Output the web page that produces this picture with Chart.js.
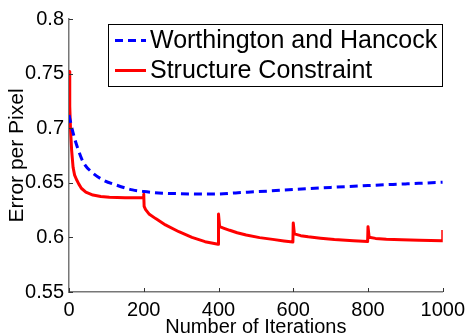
<!DOCTYPE html>
<html><head><meta charset="utf-8">
<script src="https://cdn.jsdelivr.net/npm/chart.js@4"></script>
<style>html,body{margin:0;padding:0;background:#fff;overflow:hidden}</style>
</head><body>
<div style="width:471px;height:336px"><canvas id="c" width="471" height="336"></canvas></div>
<script>
const xTicks = [0, 200, 400, 600, 800, 1000];
const yTicks = [0.55, 0.6, 0.65, 0.7, 0.75, 0.8];

const whLabel = 'Worthington and Hancock';
const whIter = [0, 3, 11, 25, 38, 60, 91, 126, 170, 200, 250, 300, 364, 400, 452, 500, 600, 700, 800, 900, 1000];
const whErr  = [0.712, 0.7075, 0.6956, 0.68, 0.669, 0.66, 0.6526, 0.648, 0.6435, 0.642, 0.6405, 0.64, 0.6397, 0.6398, 0.641, 0.6418, 0.6438, 0.6458, 0.6475, 0.649, 0.6505];

const scLabel = 'Structure Constraint';
const scIter = [0, 2, 4, 7, 11, 15, 20, 26, 33, 45, 64, 85, 108, 150, 199,
  200, 201, 205, 214, 232, 258, 294, 329, 364, 399,
  400, 403, 415, 430, 450, 474, 510, 545, 575, 599,
  600, 603, 620, 640, 673, 710, 761, 799,
  800, 803, 820, 849, 890, 937, 999, 1000];
const scErr = [0.752, 0.72, 0.70, 0.68, 0.664, 0.657, 0.653, 0.649, 0.645, 0.6415, 0.6388, 0.6375, 0.6367, 0.6363, 0.6365,
  0.6395, 0.6285, 0.6255, 0.6215, 0.6172, 0.6114, 0.6052, 0.6, 0.5961, 0.5937,
  0.6214, 0.6098, 0.6083, 0.6065, 0.6043, 0.6022, 0.5998, 0.5982, 0.5968, 0.5958,
  0.6132, 0.6032, 0.6016, 0.6005, 0.5992, 0.598, 0.597, 0.5962,
  0.6098, 0.6002, 0.5991, 0.5983, 0.5978, 0.5975, 0.597, 0.6068];

const FONT = "'Liberation Sans', Arial, Helvetica, sans-serif";
const toPts = (xs, ys) => xs.map((x, i) => ({x: x, y: ys[i]}));

const inwardTicks = {
  id: 'inwardTicks',
  afterDraw(chart) {
    const {ctx, chartArea: a, scales: {x, y}} = chart;
    ctx.save();
    ctx.strokeStyle = '#333';
    ctx.lineWidth = 1;
    ctx.beginPath();
    x.ticks.forEach(t => {
      const px = Math.round(x.getPixelForValue(t.value)) + 0.5;
      ctx.moveTo(px, a.bottom); ctx.lineTo(px, a.bottom - 4);
    });
    y.ticks.forEach(t => {
      const py = Math.round(y.getPixelForValue(t.value)) + 0.5;
      ctx.moveTo(a.left, py); ctx.lineTo(a.left + 4, py);
    });
    ctx.stroke();
    ctx.restore();
  }
};

const boxLegend = {
  id: 'boxLegend',
  afterDraw(chart) {
    const ctx = chart.ctx;
    const bx = 108.5, by = 24.5, bw = 334, bh = 62;
    ctx.save();
    ctx.fillStyle = '#fff';
    ctx.fillRect(bx, by, bw, bh);
    ctx.strokeStyle = '#000';
    ctx.lineWidth = 1;
    ctx.strokeRect(bx, by, bw, bh);
    ctx.font = '25px ' + FONT;
    ctx.textBaseline = 'middle';
    ctx.fillStyle = '#000';
    chart.data.datasets.forEach((ds, i) => {
      const ly = 40.5 + i * 30;
      ctx.beginPath();
      ctx.strokeStyle = ds.borderColor;
      ctx.lineWidth = ds.borderWidth;
      ctx.setLineDash(ds.borderDash || []);
      ctx.moveTo(115, ly); ctx.lineTo(146, ly);
      ctx.stroke();
      ctx.setLineDash([]);
      ctx.fillText(ds.label, 150, ly + 1);
    });
    ctx.restore();
  }
};

new Chart(document.getElementById('c'), {
  type: 'line',
  data: {
    datasets: [
      {label: whLabel, data: toPts(whIter, whErr), borderColor: '#0000ff', borderWidth: 3, borderDash: [8, 5], pointRadius: 0, fill: false, cubicInterpolationMode: 'monotone'},
      {label: scLabel, data: toPts(scIter, scErr), borderColor: '#ff0000', borderWidth: 3, pointRadius: 0, fill: false, tension: 0, borderJoinStyle: 'round'}
    ]
  },
  options: {
    responsive: false, animation: false, devicePixelRatio: 1,
    layout: {padding: {left: 0, right: 24, top: 19, bottom: 0}},
    plugins: {legend: {display: false}, tooltip: {enabled: false}},
    scales: {
      x: {
        type: 'linear', min: 0, max: 1000,
        afterBuildTicks: s => { s.ticks = xTicks.map(v => ({value: v})); },
        afterFit: s => { s.height = 44; },
        ticks: {font: {family: FONT, size: 20}, color: '#000', padding: 6, maxRotation: 0, autoSkip: false, callback: v => String(v)},
        grid: {display: false, drawTicks: false},
        border: {display: true, color: '#777', width: 1.5},
        title: {display: true, text: 'Number of Iterations', color: '#000', font: {family: FONT, size: 20, lineHeight: 0.9}, padding: 0}
      },
      y: {
        type: 'linear', min: 0.55, max: 0.8,
        afterBuildTicks: s => { s.ticks = yTicks.map(v => ({value: v})); },
        afterFit: s => { s.width = 69; },
        ticks: {font: {family: FONT, size: 20}, color: '#000', padding: 5, autoSkip: false, callback: v => String(v)},
        grid: {display: false, drawTicks: false},
        border: {display: true, color: '#777', width: 1.5},
        title: {display: true, text: 'Error per Pixel', color: '#000', font: {family: FONT, size: 21}, padding: {top: 5, bottom: 0}}
      }
    }
  },
  plugins: [inwardTicks, boxLegend]
});
</script>
</body></html>
